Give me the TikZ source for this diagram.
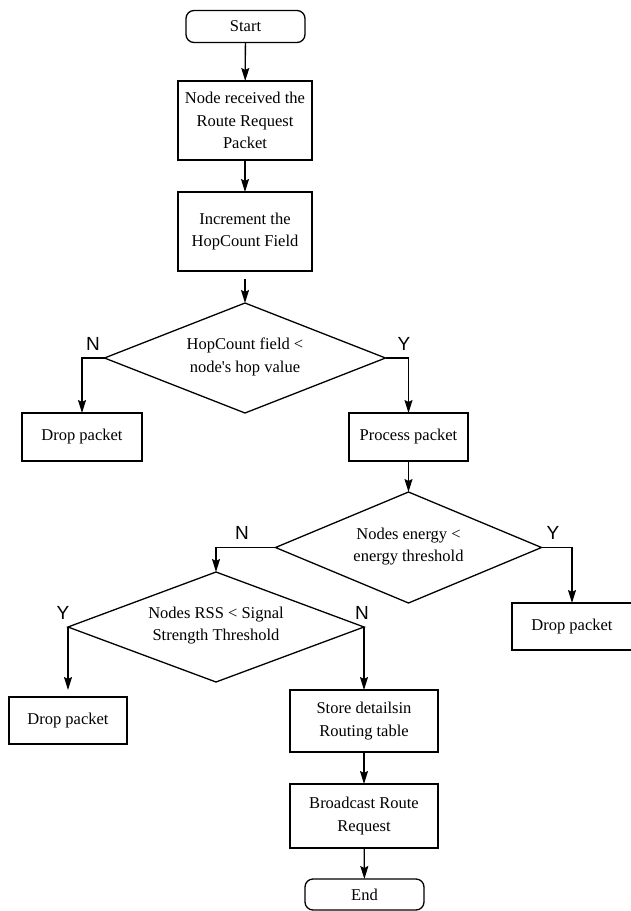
\documentclass[tikz,border=0pt]{standalone}
\usepackage{fontspec}
\setmainfont{Liberation Serif}[Ligatures=TeXOff]
\newfontfamily\lsans{Liberation Sans}
\usetikzlibrary{shapes.geometric,arrows.meta}
\begin{document}
\begin{tikzpicture}[x=1pt,y=-1pt,
  every node/.style={inner sep=0pt, outer sep=0pt},
  txt/.style={font=\fontsize{16.5}{22.5}\selectfont, align=center},
  box/.style={txt, draw, line width=1.3pt, rectangle},
  term/.style={box, rounded corners=8pt},
  dec/.style={draw, line width=1.3pt, diamond},
  lab/.style={font=\lsans\fontsize{19}{19}\selectfont},
  conn/.style={line width=1.3pt, -{Stealth[length=13pt,width=8pt,inset=2pt]}}
]
\useasboundingbox (0,0) rectangle (630,911);

\node[term, minimum width=119pt, minimum height=32pt] (start) at (245.5,26.5) {Start};
\node[box, minimum width=134pt, minimum height=79pt] (recv) at (245,120.5) {Node received the\\Route Request\\Packet};
\node[box, minimum width=134pt, minimum height=79pt] (inc) at (245,231.5) {Increment the\\HopCount Field};
\node[dec, minimum width=281pt, minimum height=110pt] (d1) at (245,358) {};
\node[txt] (d1t) at (245,357) {HopCount field <\\node's hop value};
\node[box, minimum width=120pt, minimum height=48pt] (drop1) at (82,437) {Drop packet};
\node[box, minimum width=119pt, minimum height=48pt] (proc) at (408.5,437) {Process packet};
\node[dec, minimum width=266pt, minimum height=111pt] (d2) at (408.5,547.5) {};
\node[txt] (d2t) at (408.5,546.5) {Nodes energy <\\energy threshold};
\node[box, minimum width=120pt, minimum height=47pt] (drop2) at (572,626.5) {Drop packet};
\node[dec, minimum width=296pt, minimum height=110pt] (d3) at (216,627) {};
\node[txt] (d3t) at (216,625.5) {Nodes RSS < Signal\\Strength Threshold};
\node[box, minimum width=118pt, minimum height=47pt] (drop3) at (68,720.5) {Drop packet};
\node[box, minimum width=148pt, minimum height=62pt] (store) at (364,721) {Store detailsin\\Routing table};
\node[box, minimum width=148pt, minimum height=64pt] (bc) at (364,816) {Broadcast Route\\Request};
\node[term, minimum width=119pt, minimum height=31pt] (end) at (364.5,894.5) {End};

\node[lab] (n1) at (93,344) {N};
\node[lab] (y1) at (404,344) {Y};
\node[lab] (n2) at (242,533) {N};
\node[lab] (y2) at (553,533) {Y};
\node[lab] (y3) at (63,613) {Y};
\node[lab] (n3) at (362,613) {N};

\draw[conn] (start) -- (recv);
\draw[conn] (recv) -- (inc);
\draw[conn, shorten <=8pt] (inc) -- (d1.north);
\draw[conn] (d1.west) -| (drop1.north);
\draw[conn] (d1.east) -| (proc.north);
\draw[conn] (proc) -- (d2.north);
\draw[conn] (d2.east) -| (drop2.north);
\draw[conn] (d2.west) -| (d3.north);
\draw[conn, shorten >=7pt] (d3.west) -- (drop3.north);
\draw[conn] (d3.east) -- (store.north);
\draw[conn] (store) -- (bc);
\draw[conn] (bc) -- (end);
\end{tikzpicture}
\end{document}
